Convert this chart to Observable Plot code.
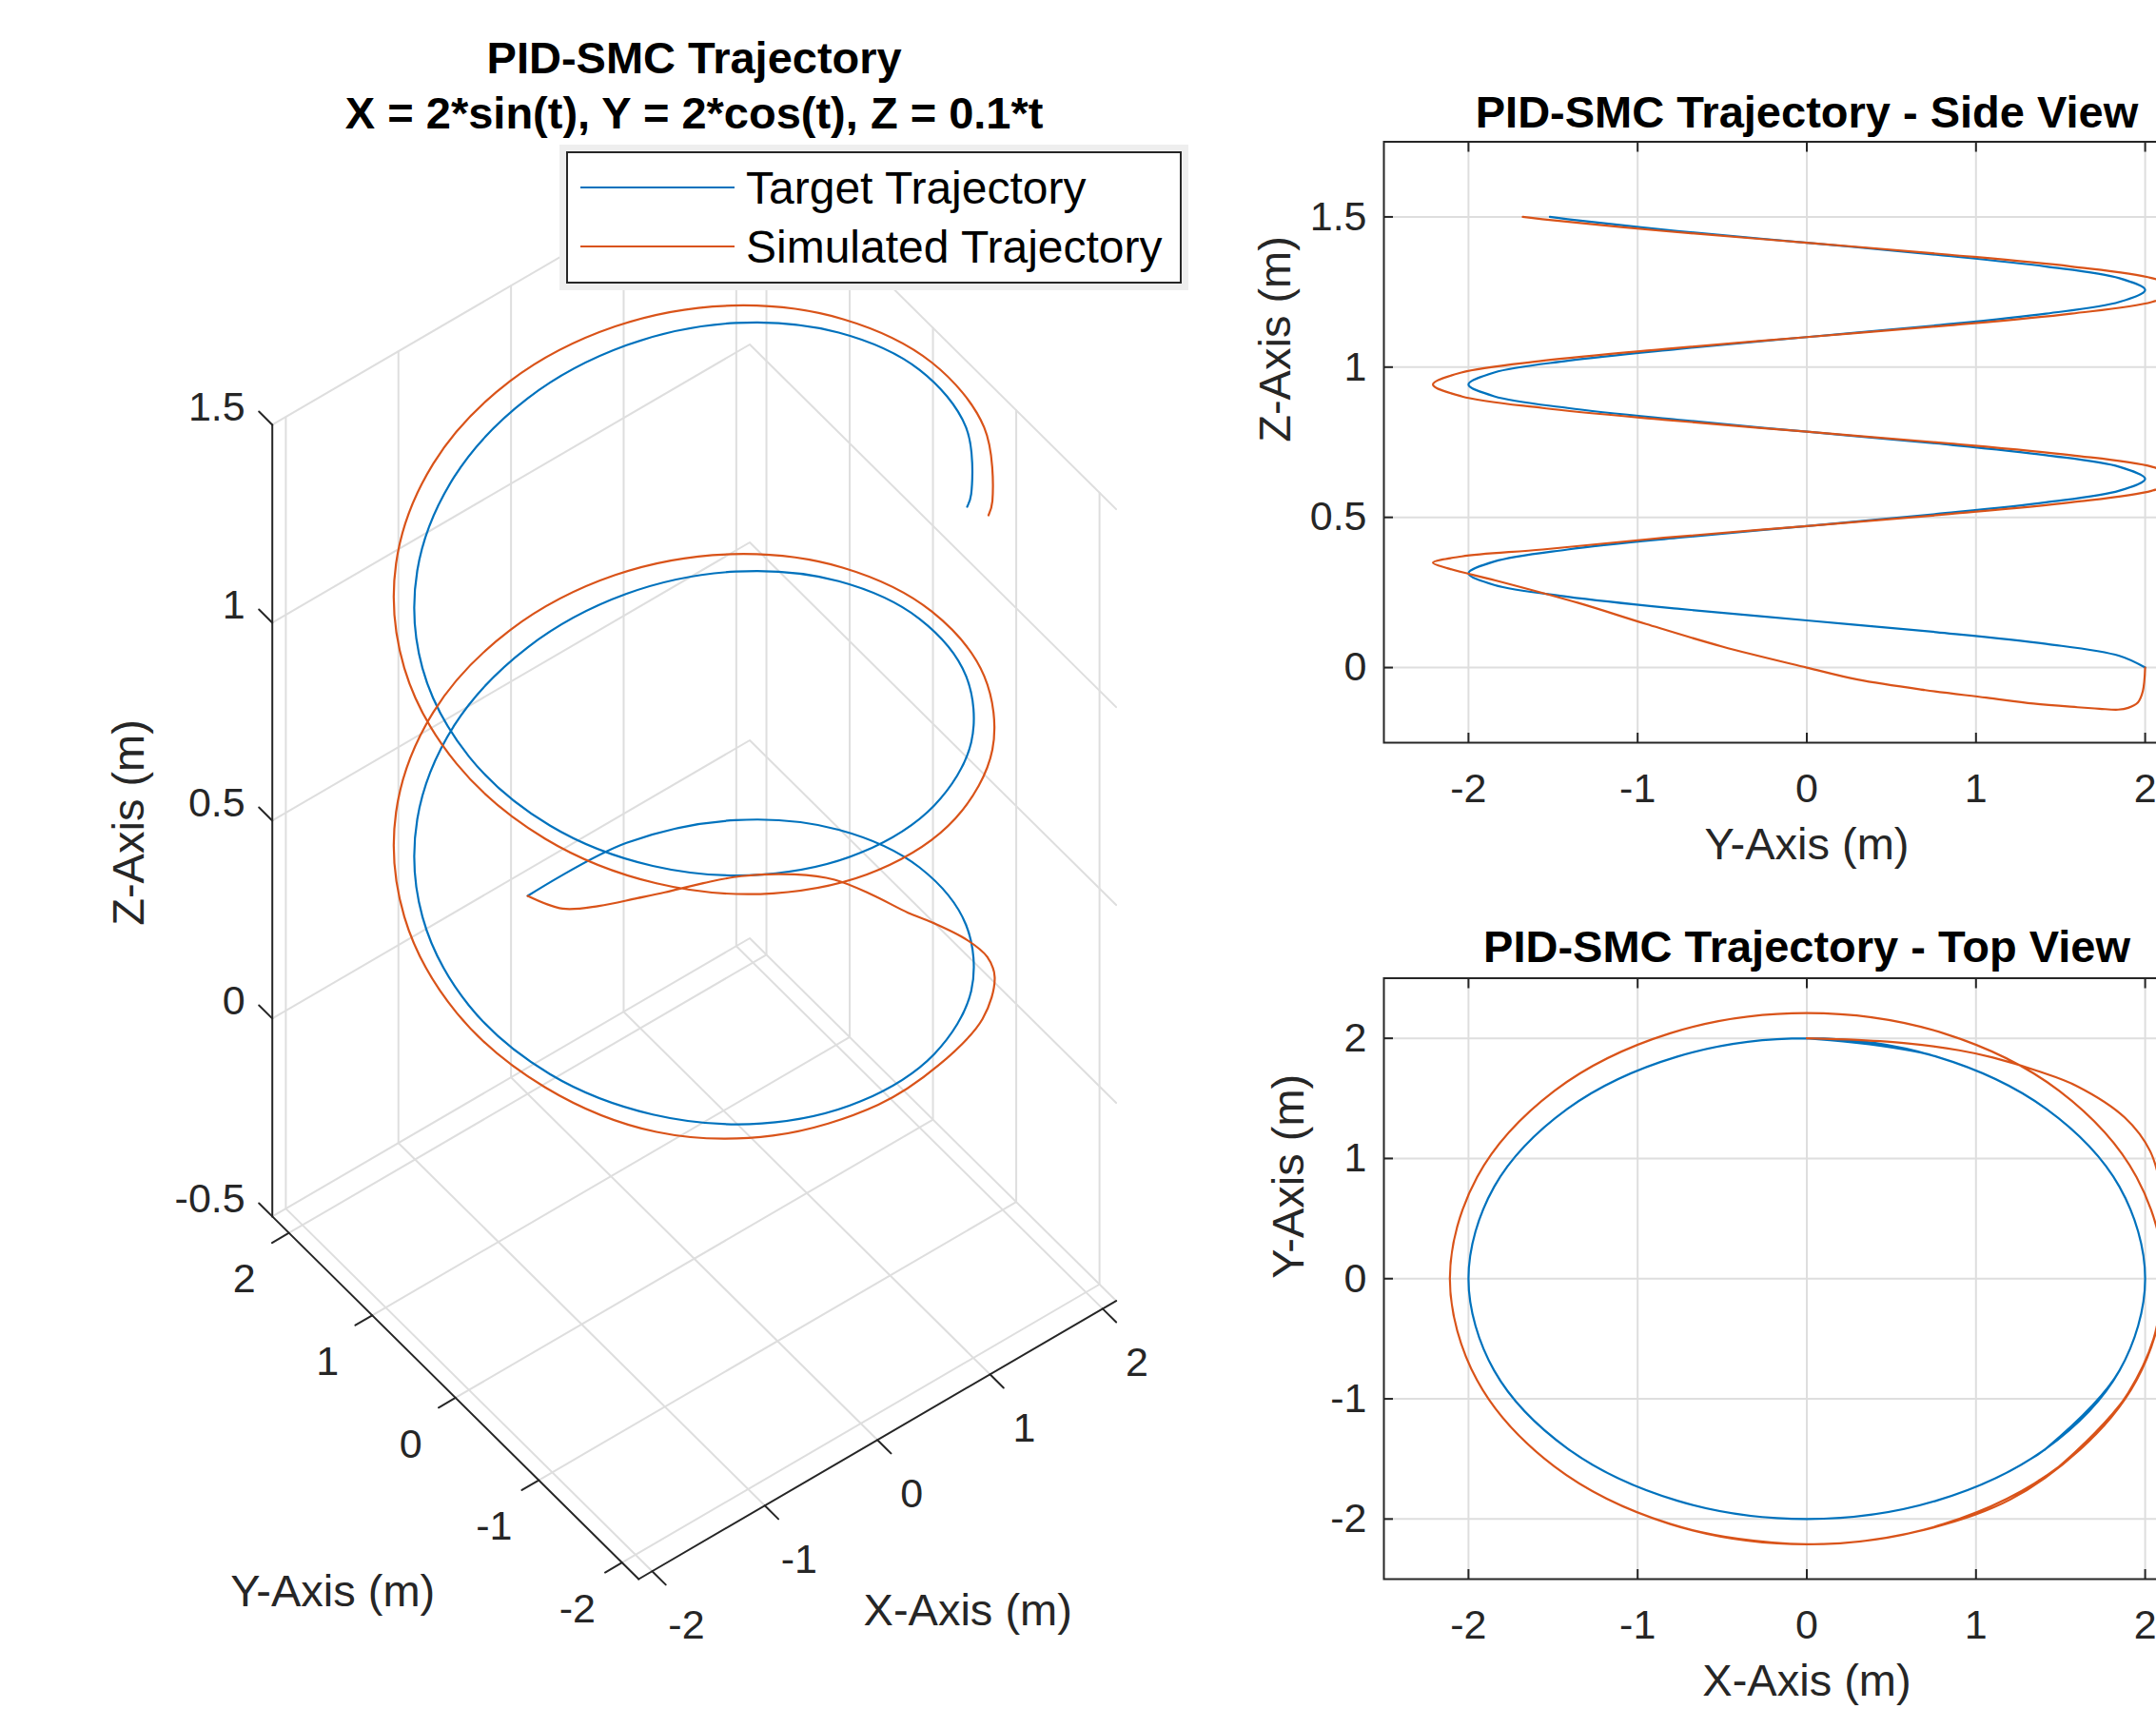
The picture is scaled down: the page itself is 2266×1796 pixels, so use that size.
<!DOCTYPE html>
<html>
<head>
<meta charset="utf-8">
<script src="https://cdn.jsdelivr.net/npm/d3@7"></script>
<script src="https://cdn.jsdelivr.net/npm/@observablehq/plot@0.6"></script>
<style>
html,body{margin:0;padding:0;width:2266px;height:1796px;overflow:hidden;background:#fff;position:relative;}
.panel{position:absolute;}
.panel svg{max-width:none !important;}
#legend{position:absolute;left:595px;top:159px;width:647px;height:139px;box-sizing:border-box;border:2.5px solid #262626;background:#fff;box-shadow:0 0 0 7px #eeeeee;font-family:"Liberation Sans",Arial,Helvetica,sans-serif;font-size:48px;color:#000;}
#legend .sw{position:absolute;left:12.5px;width:162px;height:2px;}
#legend .lb{position:absolute;left:187px;line-height:48px;white-space:nowrap;}
</style>
</head>
<body>
<div id="p3" class="panel" style="left:0;top:0;width:1300px;height:1796px"></div>
<div id="legend"></div>
<div id="pside" class="panel" style="left:1280px;top:0;width:1093px;height:920px"></div>
<div id="ptop" class="panel" style="left:1280px;top:920px;width:1093px;height:876px"></div>
<script>
// ---------------- DATA ----------------
const title3 = ["PID-SMC Trajectory", "X = 2*sin(t), Y = 2*cos(t), Z = 0.1*t"];
const sideTitle = "PID-SMC Trajectory - Side View";
const topTitle = "PID-SMC Trajectory - Top View";
const legendLabels = ["Target Trajectory", "Simulated Trajectory"];

// Target trajectory
const targetX = [0,0.765,1.414,1.848,2,1.848,1.414,0.765,0,-0.765,-1.414,-1.848,-2,-1.848,-1.414,-0.765,
  0,0.765,1.414,1.848,2,1.848,1.414,0.765,0,-0.765,-1.414,-1.848,-2,-1.848,-1.414,-0.765,
  0,0.765,1.414,1.848,2,1.848,1.414,1.301];
const targetY = [2,1.848,1.414,0.765,0,-0.765,-1.414,-1.848,-2,-1.848,-1.414,-0.765,0,0.765,1.414,1.848,
  2,1.848,1.414,0.765,0,-0.765,-1.414,-1.848,-2,-1.848,-1.414,-0.765,0,0.765,1.414,1.848,
  2,1.848,1.414,0.765,0,-0.765,-1.414,-1.519];
const targetZ = [0,0.039,0.079,0.118,0.157,0.196,0.236,0.275,0.314,0.353,0.393,0.432,0.471,0.511,0.550,0.589,
  0.628,0.668,0.707,0.746,0.785,0.825,0.864,0.903,0.942,0.982,1.021,1.060,1.100,1.139,1.178,1.217,
  1.257,1.296,1.335,1.374,1.414,1.453,1.492,1.5];

// Simulated trajectory
const simX = [0,0.3,0.6,0.9,1.1,1.36,1.6,1.88,2.03,2.1,2.12,2.11,2.05,1.9,1.67,1.2,0.6,0,-0.81,
  -1.492,-1.949,-2.11,-1.949,-1.492,-0.808,0,0.808,1.492,1.949,2.11,1.949,1.492,0.808,0,-0.808,
  -1.492,-1.949,-2.11,-1.949,-1.492,-0.808,0,0.808,1.492,1.949,2.11,1.949,1.492,1.372];
const simY = [2,1.986,1.957,1.9,1.84,1.73,1.6,1.34,1.06,0.7,0.3,0,-0.5,-0.95,-1.35,-1.84,-2.12,-2.21,-2.04,
  -1.563,-0.846,0,0.846,1.563,2.042,2.21,2.042,1.563,0.846,0,-0.846,-1.563,-2.042,-2.21,-2.042,
  -1.563,-0.846,0,0.846,1.563,2.042,2.21,2.042,1.563,0.846,0,-0.846,-1.563,-1.679];
const simZ = [0,-0.079,-0.116,-0.134,-0.14,-0.137,-0.132,-0.12,-0.1,-0.075,-0.04,0,0.07,0.145,0.215,0.29,0.33,0.349,0.37,
  0.393,0.432,0.471,0.511,0.550,0.589,0.628,0.668,0.707,0.746,0.785,0.825,0.864,0.903,0.942,0.982,
  1.021,1.060,1.100,1.139,1.178,1.217,1.257,1.296,1.335,1.374,1.414,1.453,1.492,1.5];

// Ticks and axis limits
const xyTicks = [-2,-1,0,1,2];
const zTicks3 = [-0.5,0,0.5,1,1.5];
const zTicks2 = [0,0.5,1,1.5];
const xLim3 = [-2.12,2.12], yLim3 = [-2.2,2.2], zLim3 = [-0.5,1.5];
const sideYLim = [-2.5,2.5], sideZLim = [-0.25,1.75];
const topXLim = [-2.5,2.5], topYLim = [-2.5,2.5];

// ---------------- STYLE ----------------
const FONT = '"Liberation Sans", Arial, Helvetica, sans-serif';
const BLUE = "#0072BD", ORANGE = "#D95319", GRID = "#dedede", AXC = "#262626";
const fmt = d => String(d);
const svgStyle = {fontFamily: FONT, fontSize: "43px", color: AXC, background: "transparent", overflow: "visible", maxWidth: "none"};

// ---------------- 3D VIEW (MATLAB view(-37.5, 30), stretch-to-fill) ----------------
const AZ = -37.5 * Math.PI / 180, EL = 30 * Math.PI / 180;
const ca = Math.cos(AZ), sa = Math.sin(AZ), ce = Math.cos(EL), se = Math.sin(EL);
function proj(x, y, z) {
  const nx = (x - xLim3[0]) / (xLim3[1] - xLim3[0]);
  const ny = (y - yLim3[0]) / (yLim3[1] - yLim3[0]);
  const nz = (z - zLim3[0]) / (zLim3[1] - zLim3[0]);
  return {u: ca * nx + sa * ny, v: -se * sa * nx + se * ca * ny + ce * nz};
}
const vMax = -se * sa + se * ca + ce;

const target = targetX.map((x, i) => ({x, y: targetY[i], z: targetZ[i]}));
const sim = simX.map((x, i) => ({x, y: simY[i], z: simZ[i]}));
const target3 = target.map(d => proj(d.x, d.y, d.z));
const sim3 = sim.map(d => proj(d.x, d.y, d.z));

function addPath(pts, g, arr) { pts.forEach(p => arr.push({...proj(p[0], p[1], p[2]), g})); }
const grid3 = [];
xyTicks.forEach((t, i) => addPath([[t, yLim3[0], zLim3[0]], [t, yLim3[1], zLim3[0]], [t, yLim3[1], zLim3[1]]], "x" + i, grid3));
xyTicks.forEach((t, i) => addPath([[xLim3[0], t, zLim3[0]], [xLim3[1], t, zLim3[0]], [xLim3[1], t, zLim3[1]]], "y" + i, grid3));
zTicks3.forEach((t, i) => addPath([[xLim3[0], yLim3[1], t], [xLim3[1], yLim3[1], t], [xLim3[1], yLim3[0], t]], "z" + i, grid3));

const axes3 = [];
addPath([[xLim3[0], yLim3[0], zLim3[0]], [xLim3[1], yLim3[0], zLim3[0]]], "ax", axes3);
addPath([[xLim3[0], yLim3[0], zLim3[0]], [xLim3[0], yLim3[1], zLim3[0]]], "ay", axes3);
addPath([[xLim3[0], yLim3[1], zLim3[0]], [xLim3[0], yLim3[1], zLim3[1]]], "az", axes3);
xyTicks.forEach((t, i) => addPath([[t, yLim3[0], zLim3[0]], [t, yLim3[0] - 0.163, zLim3[0]]], "tx" + i, axes3));
xyTicks.forEach((t, i) => addPath([[xLim3[0], t, zLim3[0]], [xLim3[0] - 0.15, t, zLim3[0]]], "ty" + i, axes3));
zTicks3.forEach((t, i) => addPath([[xLim3[0], yLim3[1], t], [xLim3[0], yLim3[1] + 0.16, t]], "tz" + i, axes3));

const xLab3 = xyTicks.map(t => ({...proj(t, yLim3[0], zLim3[0]), s: fmt(t)}));
const yLab3 = xyTicks.map(t => ({...proj(xLim3[0], t, zLim3[0]), s: fmt(t)}));
const zLab3 = zTicks3.map(t => ({...proj(xLim3[0], yLim3[1], t), s: fmt(t)}));

const p3 = Plot.plot({
  width: 1300, height: 1796,
  marginLeft: 285.7, marginRight: 127.4, marginTop: 153.5, marginBottom: 137,
  style: svgStyle,
  x: {domain: [sa, ca], axis: null},
  y: {domain: [0, vMax], axis: null},
  marks: [
    Plot.line(grid3, {x: "u", y: "v", z: "g", stroke: GRID, strokeWidth: 2}),
    Plot.line(target3, {x: "u", y: "v", stroke: BLUE, strokeWidth: 2.2, curve: "catmull-rom"}),
    Plot.line(sim3, {x: "u", y: "v", stroke: ORANGE, strokeWidth: 2.2, curve: "catmull-rom"}),
    Plot.line(axes3, {x: "u", y: "v", z: "g", stroke: AXC, strokeWidth: 2}),
    Plot.text(xLab3, {x: "u", y: "v", text: "s", dx: 36, dy: 57, fontSize: 43, fill: AXC, lineAnchor: "middle"}),
    Plot.text(yLab3, {x: "u", y: "v", text: "s", dx: -47, dy: 49, fontSize: 43, fill: AXC, lineAnchor: "middle"}),
    Plot.text(zLab3, {x: "u", y: "v", text: "s", dx: -28.5, dy: -18.5, textAnchor: "end", fontSize: 43, fill: AXC, lineAnchor: "middle"}),
    Plot.text([{...proj(0, yLim3[0], zLim3[0]), s: "X-Axis (m)"}], {x: "u", y: "v", text: "s", dx: 95, dy: 180, fontSize: 47, fill: AXC, lineAnchor: "middle"}),
    Plot.text([{...proj(xLim3[0], 0, zLim3[0]), s: "Y-Axis (m)"}], {x: "u", y: "v", text: "s", dx: -129, dy: 204, fontSize: 47, fill: AXC, lineAnchor: "middle"}),
    Plot.text([{...proj(xLim3[0], yLim3[1], 0.5), s: "Z-Axis (m)"}], {x: "u", y: "v", text: "s", dx: -150, dy: 2, rotate: -90, fontSize: 47, fill: AXC, lineAnchor: "middle"}),
    Plot.text([title3[0]], {frameAnchor: "top", lineAnchor: "middle", text: d => d, dy: -91.7, fontSize: 47, fontWeight: "bold", fill: "#000"}),
    Plot.text([title3[1]], {frameAnchor: "top", lineAnchor: "middle", text: d => d, dy: -33.7, fontSize: 47, fontWeight: "bold", fill: "#000"})
  ]
});
document.getElementById("p3").appendChild(p3);

// Legend
const leg = document.getElementById("legend");
[BLUE, ORANGE].forEach((c, i) => {
  const sw = document.createElement("div");
  sw.className = "sw"; sw.style.background = c; sw.style.top = (35.4 + i * 61.6) + "px";
  leg.appendChild(sw);
  const lb = document.createElement("div");
  lb.className = "lb"; lb.textContent = legendLabels[i]; lb.style.top = (13.3 + i * 61.6) + "px";
  leg.appendChild(lb);
});

// ---------------- 2D VIEWS ----------------
function view2D({xs, ys, xDomain, yDomain, yTicks, title, xLabel, yLabel, height, marginTop, marginBottom, titleDy, xLabelDy, yLabelDx}) {
  return Plot.plot({
    width: 1093, height,
    marginLeft: 174, marginRight: 30, marginTop, marginBottom,
    style: svgStyle,
    x: {domain: xDomain},
    y: {domain: yDomain},
    marks: [
      Plot.gridX(xyTicks, {stroke: GRID, strokeOpacity: 1, strokeWidth: 2}),
      Plot.gridY(yTicks, {stroke: GRID, strokeOpacity: 1, strokeWidth: 2}),
      Plot.line(target, {x: xs, y: ys, stroke: BLUE, strokeWidth: 2.2, curve: "catmull-rom"}),
      Plot.line(sim, {x: xs, y: ys, stroke: ORANGE, strokeWidth: 2.2, curve: "catmull-rom"}),
      Plot.frame({stroke: AXC, strokeWidth: 2}),
      Plot.axisX(xyTicks, {anchor: "bottom", tickSize: -10, tickPadding: 42, tickFormat: fmt, label: null, strokeWidth: 2, fontSize: 43, fill: AXC}),
      Plot.axisX(xyTicks, {anchor: "top", tickSize: -10, tickFormat: () => "", label: null, strokeWidth: 2}),
      Plot.axisY(yTicks, {anchor: "left", tickSize: -10, tickPadding: 28, tickFormat: fmt, label: null, strokeWidth: 2, fontSize: 43, fill: AXC}),
      Plot.axisY(yTicks, {anchor: "right", tickSize: -10, tickFormat: () => "", label: null, strokeWidth: 2}),
      Plot.text([title], {frameAnchor: "top", lineAnchor: "middle", text: d => d, dy: titleDy, fontSize: 47, fontWeight: "bold", fill: "#000"}),
      Plot.text([xLabel], {frameAnchor: "bottom", lineAnchor: "middle", text: d => d, dy: xLabelDy, fontSize: 47, fill: AXC}),
      Plot.text([yLabel], {frameAnchor: "left", lineAnchor: "middle", text: d => d, dx: yLabelDx, rotate: -90, fontSize: 47, fill: AXC})
    ]
  });
}

document.getElementById("pside").appendChild(view2D({
  xs: "y", ys: "z", xDomain: sideYLim, yDomain: sideZLim, yTicks: zTicks2,
  title: sideTitle, xLabel: "Y-Axis (m)", yLabel: "Z-Axis (m)",
  height: 920, marginTop: 148.5, marginBottom: 140, titleDy: -30, xLabelDy: 107, yLabelDx: -114
}));

document.getElementById("ptop").appendChild(view2D({
  xs: "x", ys: "y", xDomain: topXLim, yDomain: topYLim, yTicks: xyTicks,
  title: topTitle, xLabel: "X-Axis (m)", yLabel: "Y-Axis (m)",
  height: 876, marginTop: 107.5, marginBottom: 137, titleDy: -32, xLabelDy: 107, yLabelDx: -100
}));
</script>
</body>
</html>
